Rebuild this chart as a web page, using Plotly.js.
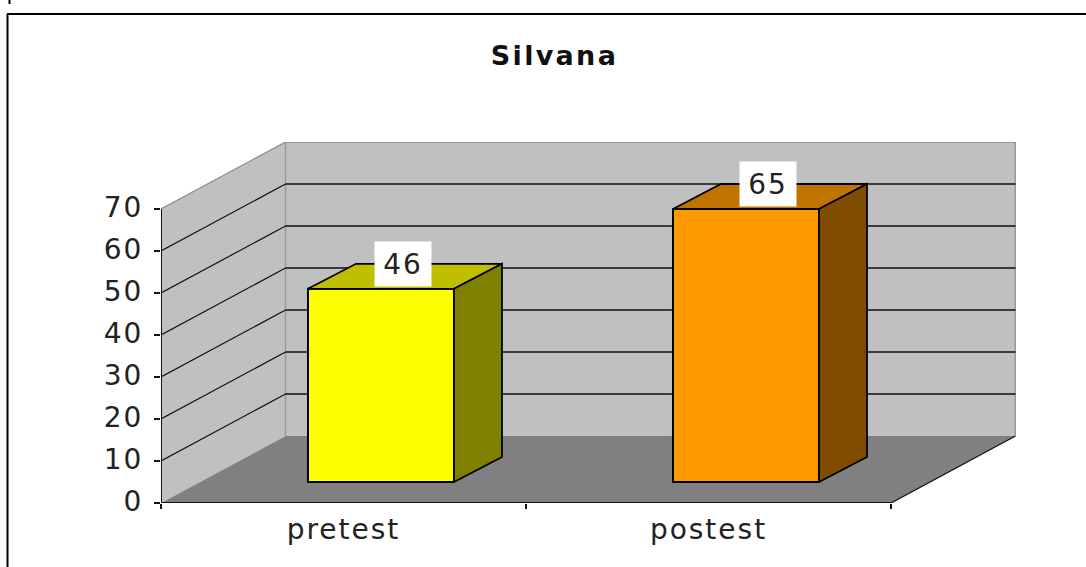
<!DOCTYPE html>
<html>
<head>
<meta charset="utf-8">
<script src="https://cdn.plot.ly/plotly-3.0.1.min.js"></script>
<style>
html,body{margin:0;padding:0;background:#fff;overflow:hidden}
.xtick text,.ytick text,.annotation-text{letter-spacing:2px}
.gtitle{letter-spacing:2.3px}
</style>
</head>
<body>
<div id="chart" style="width:1086px;height:567px"></div>
<script>
const titleText = "Silvana";
const categories = ["pretest", "postest"];
const values = [46, 65];
const frontColors = ["#FFFF00", "#FF9900"];
const topColors = ["#BFBF00", "#BF7300"];
const sideColors = ["#808000", "#804D00"];
const yTicks = [0, 10, 20, 30, 40, 50, 60, 70];
const wallColor = "#C0C0C0";
const floorColor = "#808080";

// 3D projection expressed in axis units
const W = 1086, H = 567;
const L = 161, R = 1016, T = 142, B = 503;
const pxPerCat = 365, pxPerVal = 4.2;
const depthX = 124.5 / pxPerCat, depthY = 67 / pxPerVal;
const barDX = 48 / pxPerCat, barDY = 25 / pxPerVal;
const barOffsetX = 0.1027, barBase = 5, barWidth = 0.4;
const xMin = -0.5, xMax = 1.5;
const xRange = [xMin, xMin + (R - L) / pxPerCat];
const yRange = [0, (B - T) / pxPerVal];
const yMax = yTicks[yTicks.length - 1];

const polyPath = pts => "M" + pts.map(p => p[0] + "," + p[1]).join("L") + "Z";
const line = (x0, y0, x1, y1, color, width) => ({
  type: "line", layer: "below", xref: "x", yref: "y", x0, y0, x1, y1,
  line: {color, width}
});
const px = v => (v - L) / (R - L);
const py = v => 1 - (v - T) / (B - T);
const frame = (a, b, c, d) => ({
  type: "line", xref: "paper", yref: "paper", x0: px(a), y0: py(b), x1: px(c), y1: py(d),
  line: {color: "#000", width: 2}
});

const shapes = [];
shapes.push({type: "path", layer: "below", xref: "x", yref: "y", line: {width: 0},
  fillcolor: wallColor,
  path: polyPath([[xMin, 0], [xMin + depthX, depthY], [xMin + depthX, yMax + depthY], [xMin, yMax]])});
shapes.push({type: "path", layer: "below", xref: "x", yref: "y", line: {width: 0},
  fillcolor: wallColor,
  path: polyPath([[xMin + depthX, depthY], [xMax + depthX, depthY], [xMax + depthX, yMax + depthY], [xMin + depthX, yMax + depthY]])});
shapes.push({type: "path", layer: "below", xref: "x", yref: "y", line: {width: 0},
  fillcolor: floorColor,
  path: polyPath([[xMin, 0], [xMax, 0], [xMax + depthX, depthY], [xMin + depthX, depthY]])});
// wall edges
shapes.push(line(xMin, yMax, xMin + depthX, yMax + depthY, "#8a8a8a", 1.2));
shapes.push(line(xMin + depthX, yMax + depthY, xMax + depthX, yMax + depthY, "#999", 2));
shapes.push(line(xMax + depthX, depthY, xMax + depthX, yMax + depthY, "#999", 2));
shapes.push(line(xMin + depthX, depthY, xMin + depthX, yMax + depthY, "#999", 1.5));
// gridlines on side and back walls
yTicks.slice(1).forEach(v => {
  if (v < yMax) {
    shapes.push(line(xMin, v, xMin + depthX, v + depthY, "#111", 1.2));
    shapes.push(line(xMin + depthX, v + depthY, xMax + depthX, v + depthY, "#111", 1.5));
  }
});
shapes.push(line(xMax, 0, xMax + depthX, depthY, "#111", 1.3));
shapes.push(frame(7.5, 14, 7.5, 567), frame(7, 14, 1086, 14), frame(9.5, 0, 9.5, 4));

const barX = categories.map((c, i) => i + barOffsetX);

const traces = [{
  type: "bar",
  x: barX,
  y: values,
  base: values.map(() => barBase),
  width: barWidth,
  marker: {color: frontColors, line: {color: "#000", width: 2}},
  hoverinfo: "skip"
}];
categories.forEach((c, i) => {
  const l = barX[i] - barWidth / 2, r = barX[i] + barWidth / 2;
  const bot = barBase, top = barBase + values[i];
  traces.push({
    type: "scatter", mode: "lines", fill: "toself", fillcolor: topColors[i],
    x: [l, r, r + barDX, l + barDX, l],
    y: [top, top, top + barDY, top + barDY, top],
    line: {color: "#000", width: 1.8}, hoverinfo: "skip"
  });
  traces.push({
    type: "scatter", mode: "lines", fill: "toself", fillcolor: sideColors[i],
    x: [r, r + barDX, r + barDX, r, r],
    y: [bot, bot + barDY, top + barDY, top, bot],
    line: {color: "#000", width: 1.8}, hoverinfo: "skip"
  });
});
// axis lines, not clipped at the plot edge
traces.push({
  type: "scatter", mode: "lines", cliponaxis: false,
  x: [xMin, xMin, xMax], y: [yMax, 0, 0],
  line: {color: "#111", width: 2}, hoverinfo: "skip"
});

const annotations = categories.map((c, i) => ({
  xref: "x", yref: "y",
  x: barX[i] + barDX / 2 - 0.005,
  y: barBase + values[i] + barDY - 0.1,
  text: String(values[i]),
  showarrow: false,
  bgcolor: "#fff",
  width: 54, height: 42,
  align: "center", valign: "middle",
  font: {family: "DejaVu Sans", size: 28, color: "#222"}
}));

const layout = {
  width: W, height: H,
  margin: {l: L, r: W - R, t: T, b: H - B, pad: 0},
  paper_bgcolor: "#fff", plot_bgcolor: "#fff",
  showlegend: false, hovermode: false,
  title: {
    text: titleText, xref: "paper", yref: "container",
    x: (554.5 - L) / (R - L), xanchor: "center",
    y: 1 - 56 / H, yanchor: "middle",
    font: {family: "DejaVu Sans", size: 27, weight: "bold", color: "#111"}
  },
  xaxis: {
    range: xRange, fixedrange: true, showgrid: false, zeroline: false, showline: false,
    tickmode: "array", tickvals: categories.map((c, i) => i), ticktext: categories,
    ticks: "", ticklabelstandoff: 7,
    minor: {tickmode: "array", tickvals: [-0.5, 0.5, 1.5], ticks: "outside", ticklen: 5, tickwidth: 2, tickcolor: "#111", showgrid: false},
    tickfont: {family: "DejaVu Sans", size: 28, color: "#222"}
  },
  yaxis: {
    range: yRange, fixedrange: true, showgrid: false, zeroline: false, showline: false,
    tickmode: "array", tickvals: yTicks, ticktext: yTicks.map(String),
    ticks: "outside", ticklen: 6, tickwidth: 2, tickcolor: "#111",
    ticklabelstandoff: 5, ticklabelshift: -2,
    tickfont: {family: "DejaVu Sans", size: 28, color: "#222"}
  },
  shapes, annotations
};
Plotly.newPlot("chart", traces, layout, {displayModeBar: false, staticPlot: true});
</script>
</body>
</html>
